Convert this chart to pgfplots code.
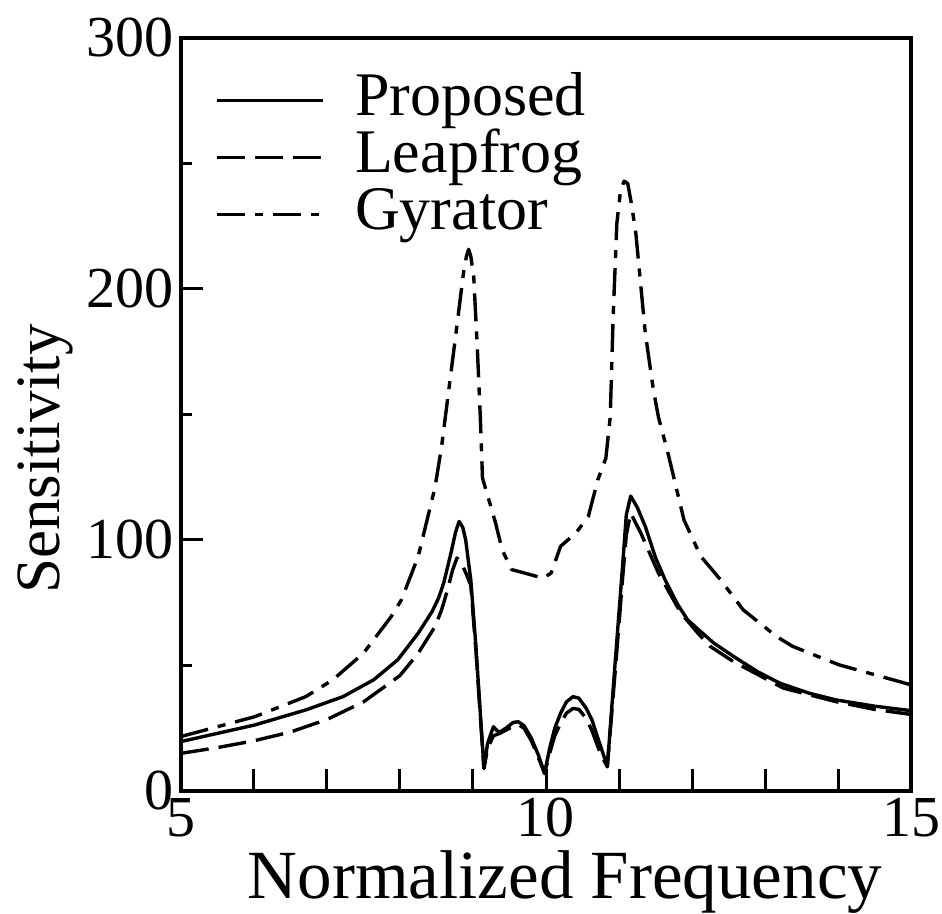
\documentclass[border=0pt]{standalone}
\usepackage{fontspec}
\setmainfont{LiberationSerif}[Extension=.ttf, UprightFont=*-Regular, BoldFont=*-Bold, ItalicFont=*-Italic]
\usepackage{pgfplots}
\pgfplotsset{compat=1.18}
\begin{document}
\begin{tikzpicture}
\useasboundingbox (-90.5pt,-61.5pt) rectangle (380.5pt,395.5pt);
\begin{axis}[
  anchor=south west, at={(0pt,0pt)},
  scale only axis, width=365pt, height=376.5pt,
  xmin=5, xmax=15, ymin=0, ymax=300,
  xtick={5,6,...,15},
  xticklabels={5,,,,,10,,,,,15},
  ytick={0,100,200,300},
  minor ytick={50,150,250},
  tick align=inside, tick pos=left,
  major tick length=11pt, minor tick length=5.5pt,
  every tick/.style={line width=1.5pt, black},
  axis line style={line width=2pt},
  tick label style={font=\rmfamily\fontsize{29}{30}\selectfont},
  /pgf/number format/assume math mode=true,
  xlabel={Normalized Frequency}, ylabel={Sensitivity},
  xlabel style={font=\rmfamily\fontsize{34.5}{36}\selectfont, at={(ticklabel cs:0.526)}, anchor=near ticklabel},
  ylabel style={font=\rmfamily\fontsize{31.5}{36}\selectfont, at={(ticklabel cs:0.441)}, anchor=near ticklabel},
  legend style={draw=none, fill=none, at={(0.047,0.955)}, anchor=north west,
    font=\rmfamily\fontsize{31}{31}\selectfont, row sep=0pt, inner sep=0pt, column sep=15pt,
    nodes={inner sep=0pt, text height=21.5pt, text depth=7pt}},
  legend cell align=left,
  legend image code/.code={\draw[#1] (0pt,0pt) -- (53pt,0pt);},
  every axis plot/.append style={line width=1.7pt, black, line join=round},
]
\addplot[solid, no marks] coordinates {(5.0,19.7)(6.01,26.3)(6.71,32.3)(7.22,37.6)(7.64,44.3)(7.97,52.3)(8.25,62.9)(8.44,71.5)(8.53,77)(8.6,83)(8.7,95)(8.76,103)(8.81,107.4)(8.86,105)(8.9,100)(8.97,84)(9.04,57.6)(9.10,31)(9.15,9)(9.2,19)(9.28,25.6)(9.33,24)(9.37,23.5)(9.45,25)(9.55,27.3)(9.62,27.6)(9.7,26)(9.8,21)(9.9,14)(9.98,7)(10.05,17)(10.12,25)(10.2,31)(10.28,35.5)(10.37,37.6)(10.45,37)(10.55,33)(10.63,28.3)(10.7,22)(10.75,17.7)(10.84,9.7)(10.96,56)(11.05,90)(11.1,110)(11.16,117.5)(11.25,113)(11.36,105.4)(11.5,93)(11.63,84.2)(11.8,74.5)(11.94,68.2)(12.08,64.5)(12.3,58.9)(12.57,53.6)(12.9,47.5)(13.2,43)(13.6,39)(13.97,36.3)(14.5,33.8)(15,32)};
\addlegendentry{Proposed}
\addplot[dash pattern=on 14pt off 5pt] coordinates {(5.0,15.0)(5.5,17.3)(6.0,20)(6.5,23.5)(7.0,28.5)(7.5,35.5)(8.0,46)(8.25,54.9)(8.48,65.5)(8.57,72.2)(8.65,80)(8.72,88)(8.78,92.8)(8.83,91.5)(8.9,87)(8.97,82)(9.04,56)(9.10,30)(9.15,9)(9.2,17)(9.28,22)(9.37,23)(9.5,25)(9.62,26.5)(9.7,25)(9.8,20)(9.9,13)(9.98,7)(10.05,15)(10.12,22)(10.2,27)(10.28,31)(10.37,32.9)(10.45,32.5)(10.55,29)(10.63,24)(10.7,18.5)(10.75,14.5)(10.84,9.7)(10.96,52)(11.05,85)(11.1,102)(11.16,110.7)(11.3,102.7)(11.54,86.8)(11.85,70.8)(12.08,62.9)(12.25,57.6)(12.57,51.5)(13.25,41)(13.97,35.6)(14.5,32.5)(15,30.5)};
\addlegendentry{Leapfrog}
\addplot[dash pattern=on 14pt off 5pt on 4pt off 5pt] coordinates {(5.0,21.7)(6.01,29.6)(6.71,37.6)(7.08,44.3)(7.5,54.9)(7.88,69.5)(8.02,76.2)(8.25,93.5)(8.48,121)(8.57,137.3)(8.75,178.5)(8.87,206.5)(8.91,213)(8.94,215.8)(8.97,213)(9.01,205)(9.06,176)(9.10,149)(9.13,124.7)(9.31,106.7)(9.40,96)(9.53,88.2)(9.71,86.8)(9.96,84.8)(10.07,86.8)(10.2,97.5)(10.41,102.8)(10.58,109.4)(10.71,124)(10.82,132.6)(10.88,149)(10.92,189)(10.97,226)(11.02,239)(11.07,243)(11.12,242)(11.17,234)(11.23,222.4)(11.36,182.5)(11.47,160)(11.54,149)(11.67,134.7)(11.89,108)(12.12,93.5)(12.39,84.2)(12.7,72.2)(13.16,61.5)(13.38,57.6)(14.01,50.3)(15,42.3)};
\addlegendentry{Gyrator}
\end{axis}
\end{tikzpicture}
\end{document}
